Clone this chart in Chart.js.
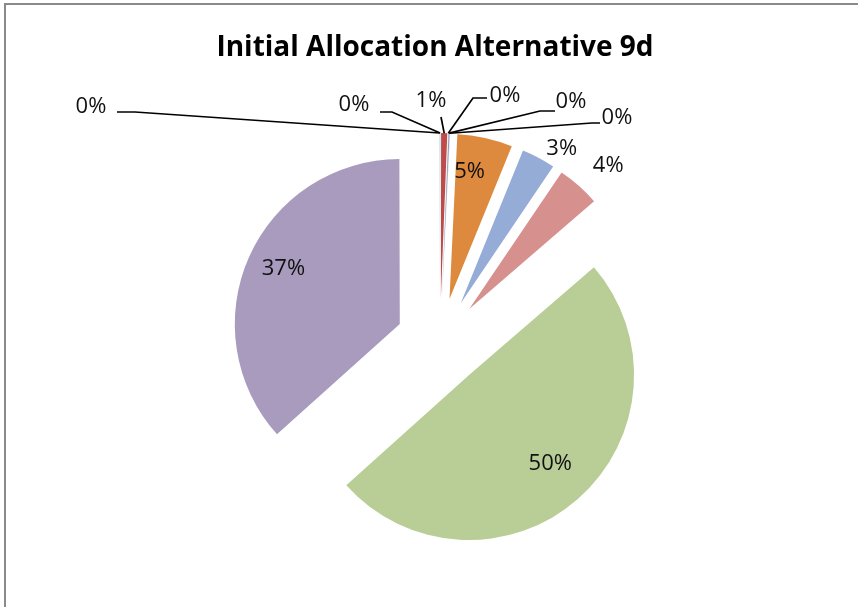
<!DOCTYPE html>
<html>
<head>
<meta charset="utf-8">
<script src="https://cdn.jsdelivr.net/npm/chart.js@4.4.1/dist/chart.umd.min.js"></script>
<style>
  html, body { margin: 0; padding: 0; background: #fff; }
  #wrap { position: relative; width: 858px; height: 607px; overflow: hidden; }
  #frame {
    position: absolute; left: 4px; top: 3px; right: -10px; bottom: -10px;
    border-top: 2px solid #8a8a8a; border-left: 2px solid #8a8a8a;
    pointer-events: none;
  }
</style>
</head>
<body>
<div id="wrap">
  <canvas id="pie" width="858" height="607"></canvas>
  <div id="frame"></div>
</div>
<script>
// Kakediagram, alle stykker "eksplodert" ut fra sentrum (Excel-stil)
const TITLE = "Initial Allocation Alternative 9d";

const CATEGORIES = [
  "Item 1", "Item 2", "Item 3", "Item 4", "Item 5", "Item 6",
  "Item 7", "Item 8", "Item 9", "Item 10", "Item 11",
];
// andel i prosent, lest av bildet
const SHARES = [0.02, 0.6, 0.02, 0.1, 0.02, 5.4, 3.3, 4.2, 49.7, 36.6, 0.04];
const COLORS = [
  "#4a7ebb", "#be4b48", "#98b954", "#9d8bbd", "#46aac5", "#de8a3e",
  "#95add6", "#d6908e", "#b9ce96", "#a89bbd", "#93cddd",
];

const FONT = '"Open Sans", "Liberation Sans", Arial, sans-serif';
const RADIUS = 165;
const EXPLODE = 44;

// etiketter langs halveringslinjen: [radiusfaktor, vinkeljustering i grader]
const POLAR_LABELS = {
  5: [0.78, -3.5],
  6: [1.12, 5],
  7: [1.21, 2.5],
  8: [0.73, -1],
  9: [0.78, 1.3],
};
// etiketter med ledelinje, relativt til toppen av kaken: tekst, start, knekk
const LEADER_LABELS = {
  0: { text: [-86, -28], start: [-60, -21], elbow: [-48, -21] },
  1: { text: [-9, -32], start: [1, -16], elbow: [1, -16] },
  2: { text: [65, -37], start: [47, -35], elbow: [33, -35] },
  3: { text: [131, -31], start: [115, -22], elbow: [100, -22] },
  4: { text: [177, -15], start: [160, -10], elbow: [152, -10] },
  10: { text: [-349, -26], start: [-323, -21], elbow: [-305, -21] },
};

function center(chart) {
  const a = chart.chartArea;
  return { x: (a.left + a.right) / 2, y: (a.top + a.bottom) / 2 };
}

const explodePlugin = {
  id: "explode",
  beforeDatasetDraw(chart, args) {
    const c = center(chart);
    for (const arc of args.meta.data) {
      const mid = (arc.startAngle + arc.endAngle) / 2;
      arc.x = c.x + Math.cos(mid) * EXPLODE;
      arc.y = c.y + Math.sin(mid) * EXPLODE;
    }
  },
};

const labelPlugin = {
  id: "pctLabels",
  afterDatasetsDraw(chart) {
    const ctx = chart.ctx;
    const meta = chart.getDatasetMeta(0);
    const values = chart.data.datasets[0].data;
    const total = values.reduce((s, v) => s + v, 0);
    const c = center(chart);
    const top = { x: c.x, y: c.y - EXPLODE - RADIUS };

    ctx.save();
    ctx.font = `22px ${FONT}`;
    ctx.fillStyle = "#111";
    ctx.strokeStyle = "#000";
    ctx.lineWidth = 1.7;
    ctx.textAlign = "center";
    ctx.textBaseline = "middle";

    meta.data.forEach((arc, i) => {
      const txt = Math.round((values[i] / total) * 100) + "%";
      const mid = (arc.startAngle + arc.endAngle) / 2;
      if (POLAR_LABELS[i]) {
        const [f, deg] = POLAR_LABELS[i];
        const ang = mid + (deg * Math.PI) / 180;
        const r = arc.outerRadius * f;
        ctx.fillText(txt, arc.x + Math.cos(ang) * r, arc.y + Math.sin(ang) * r);
      } else if (LEADER_LABELS[i]) {
        const L = LEADER_LABELS[i];
        const tipX = arc.x + Math.cos(mid) * arc.outerRadius;
        const tipY = arc.y + Math.sin(mid) * arc.outerRadius;
        ctx.beginPath();
        ctx.moveTo(top.x + L.start[0], top.y + L.start[1]);
        ctx.lineTo(top.x + L.elbow[0], top.y + L.elbow[1]);
        ctx.lineTo(tipX, tipY);
        ctx.stroke();
        ctx.fillText(txt, top.x + L.text[0], top.y + L.text[1]);
      }
    });

    ctx.font = `bold 28px ${FONT}`;
    ctx.fillStyle = "#000";
    ctx.fillText(TITLE, 435, 48);
    ctx.restore();
  },
};

new Chart(document.getElementById("pie").getContext("2d"), {
  type: "pie",
  data: {
    labels: CATEGORIES,
    datasets: [
      {
        data: SHARES,
        backgroundColor: COLORS,
        borderWidth: 0,
      },
    ],
  },
  options: {
    responsive: false,
    animation: false,
    events: [],
    radius: RADIUS,
    layout: { padding: { left: 22, right: 0, top: 77, bottom: 0 } },
    plugins: {
      legend: { display: false },
      tooltip: { enabled: false },
      title: { display: false },
    },
  },
  plugins: [explodePlugin, labelPlugin],
});
</script>
</body>
</html>
